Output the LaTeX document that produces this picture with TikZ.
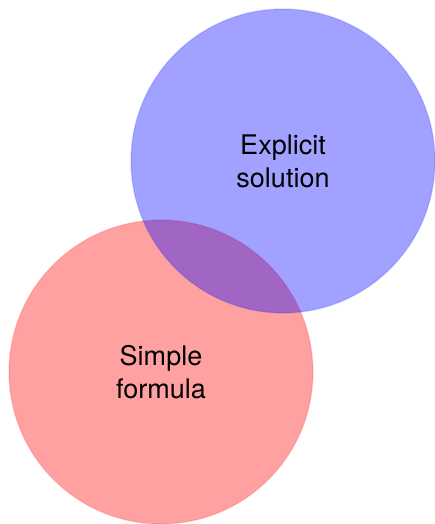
\documentclass[tikz,border=0pt]{standalone}
\usepackage{fontspec}
\setmainfont{TeX Gyre Heros}
\begin{document}
\begin{tikzpicture}[x=1pt,y=-1pt,
  setcircle/.style={circle, minimum size=304pt, inner sep=0pt, fill opacity=0.37, draw opacity=0.12, line width=1.5pt},
  label/.style={align=center, font=\fontsize{27}{33}\selectfont, text=black}]
  \useasboundingbox (0,0) rectangle (435,524);
  % red set drawn first, blue set on top
  \node[setcircle, fill=red, draw=red] (simple) at (161,372) {};
  \node[setcircle, fill=blue, draw=blue] (explicit) at (283,161) {};
  \node[label] (explicitText) at (explicit.center) {Explicit\\solution};
  \node[label] (simpleText) at (simple.center) {Simple\\formula};
\end{tikzpicture}
\end{document}
